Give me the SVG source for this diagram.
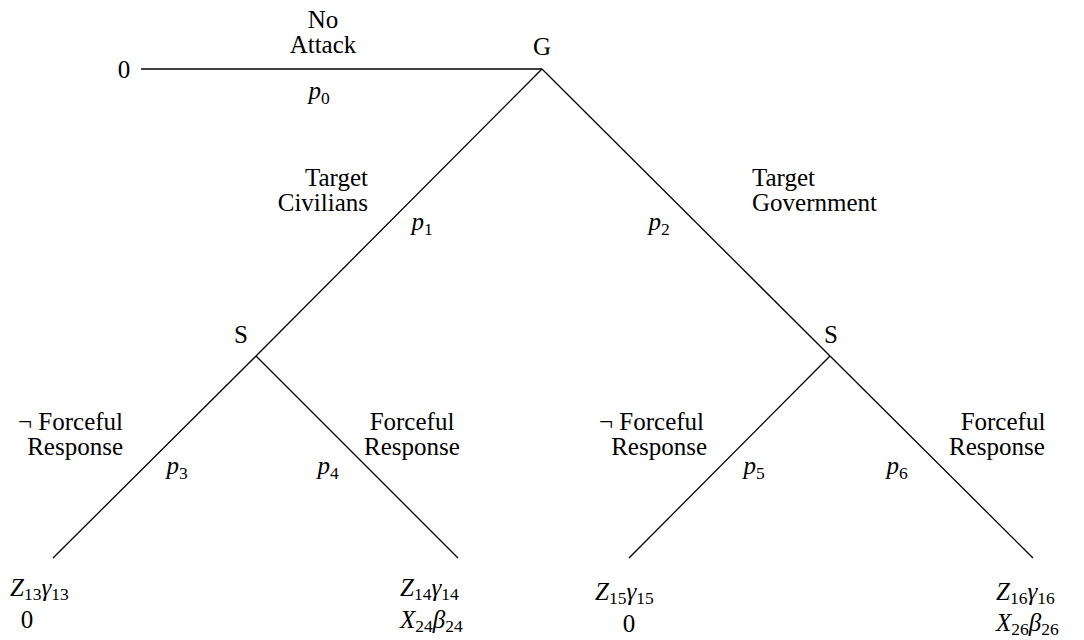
<svg xmlns="http://www.w3.org/2000/svg" width="1084" height="640" viewBox="0 0 1084 640">
<style>
text{font-family:'Liberation Serif','DejaVu Serif',serif;font-size:25px;fill:#000}
.m{text-anchor:middle}
.e{text-anchor:end}
.i{font-style:italic}
.s{font-size:17.5px;font-style:normal}
.edge{stroke:#000;stroke-width:1.3;fill:none}
</style>
<rect width="1084" height="640" fill="#fff"/>
<g id="connectors">
<line class="edge" x1="141" y1="69" x2="542" y2="69"/>
<line class="edge" x1="542" y1="69" x2="256" y2="356"/>
<line class="edge" x1="542" y1="69" x2="830" y2="356"/>
<line class="edge" x1="256" y1="356" x2="53" y2="558"/>
<line class="edge" x1="256" y1="356" x2="458" y2="558"/>
<line class="edge" x1="830" y1="356" x2="629" y2="558"/>
<line class="edge" x1="830" y1="356" x2="1033" y2="558"/>
</g>
<g id="labels">
<text class="m" x="323" y="28">No</text>
<text class="m" x="323" y="53">Attack</text>
<text class="m i" x="319" y="99">p<tspan class="s" dy="5">0</tspan></text>
<text class="e" x="368" y="186">Target</text>
<text class="e" x="368" y="211">Civilians</text>
<text class="m i" x="422" y="230">p<tspan class="s" dy="5">1</tspan></text>
<text x="752" y="186">Target</text>
<text x="752" y="211">Government</text>
<text class="m i" x="659" y="230">p<tspan class="s" dy="5">2</tspan></text>
<text class="e" x="123" y="430">¬ Forceful</text>
<text class="e" x="123" y="455">Response</text>
<text class="m i" x="177" y="474">p<tspan class="s" dy="5">3</tspan></text>
<text class="m i" x="328" y="474">p<tspan class="s" dy="5">4</tspan></text>
<text class="m" x="412" y="430">Forceful</text>
<text class="m" x="412" y="455">Response</text>
<text class="e" x="704" y="430">¬ Forceful</text>
<text class="e" x="707" y="455">Response</text>
<text class="m i" x="754" y="474">p<tspan class="s" dy="5">5</tspan></text>
<text class="m i" x="897" y="474">p<tspan class="s" dy="5">6</tspan></text>
<text class="m" x="1003" y="430">Forceful</text>
<text class="m" x="997" y="455">Response</text>
</g>
<g id="node-G"><text class="m" x="542" y="55">G</text></g>
<g id="node-noattack"><text class="m" x="124" y="78">0</text></g>
<g id="node-S1"><text class="m" x="241" y="343">S</text></g>
<g id="node-S2"><text class="m" x="831" y="343">S</text></g>
<g id="node-leaf13">
<text class="i" x="10" y="596">Z<tspan class="s" dy="4">13</tspan><tspan dy="-4">γ</tspan><tspan class="s" dy="4">13</tspan></text>
<text class="m" x="27" y="628">0</text>
</g>
<g id="node-leaf14">
<text class="i" x="400" y="596">Z<tspan class="s" dy="4">14</tspan><tspan dy="-4">γ</tspan><tspan class="s" dy="4">14</tspan></text>
<text class="i" x="400" y="628">X<tspan class="s" dy="4">24</tspan><tspan dy="-4">β</tspan><tspan class="s" dy="4">24</tspan></text>
</g>
<g id="node-leaf15">
<text class="i" x="595" y="600">Z<tspan class="s" dy="4">15</tspan><tspan dy="-4">γ</tspan><tspan class="s" dy="4">15</tspan></text>
<text class="m" x="629" y="632">0</text>
</g>
<g id="node-leaf16">
<text class="i" x="996" y="600">Z<tspan class="s" dy="4">16</tspan><tspan dy="-4">γ</tspan><tspan class="s" dy="4">16</tspan></text>
<text class="i" x="996" y="631">X<tspan class="s" dy="4">26</tspan><tspan dy="-4">β</tspan><tspan class="s" dy="4">26</tspan></text>
</g>
</svg>
